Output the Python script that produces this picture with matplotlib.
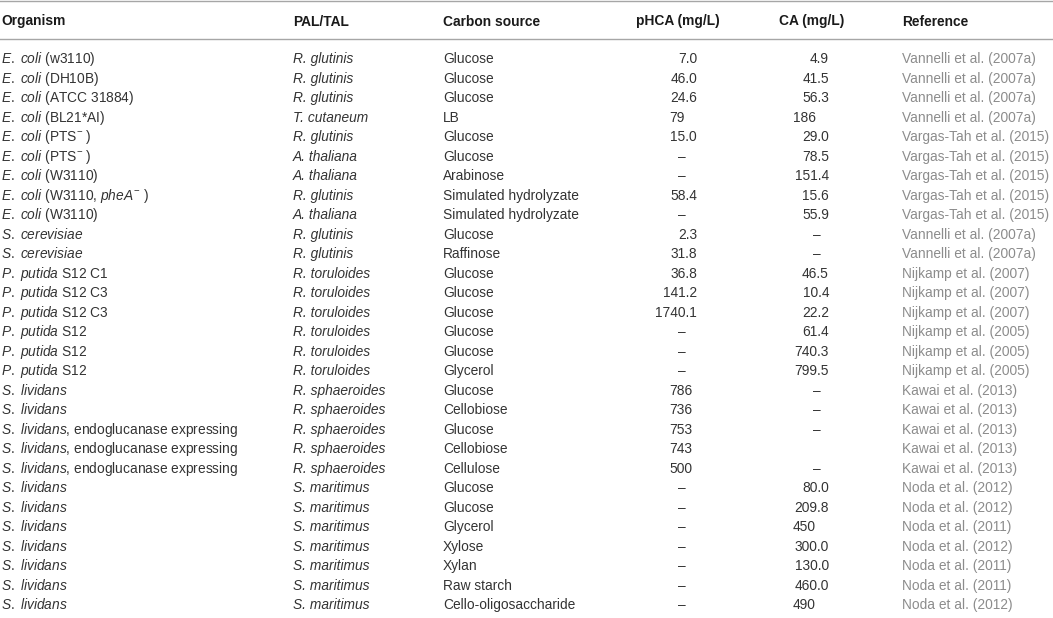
import matplotlib
matplotlib.use("Agg")
import matplotlib.pyplot as plt

plt.rcParams['font.family'] = ['Liberation Sans', 'DejaVu Sans']
plt.rcParams['mathtext.fontset'] = 'custom'
plt.rcParams['mathtext.rm'] = 'Liberation Sans'
plt.rcParams['mathtext.it'] = 'Liberation Sans:italic'
plt.rcParams['mathtext.bf'] = 'Liberation Sans:bold'

headers = ["Organism", "PAL/TAL", "Carbon source", "pHCA (mg/L)", "CA (mg/L)", "Reference"]

ECOLI = r"$\mathit{E.}$ $\mathit{coli}$"
SLIV = r"$\mathit{S.}$ $\mathit{lividans}$"
PPUT = r"$\mathit{P.}$ $\mathit{putida}$"

organisms = [
    ECOLI + " (w3110)",
    ECOLI + " (DH10B)",
    ECOLI + " (ATCC 31884)",
    ECOLI + " (BL21*AI)",
    ECOLI + r" (PTS$^{-}$ )",
    ECOLI + r" (PTS$^{-}$ )",
    ECOLI + " (W3110)",
    ECOLI + r" (W3110, $\mathit{pheA}^{-}$ )",
    ECOLI + " (W3110)",
    r"$\mathit{S.}$ $\mathit{cerevisiae}$",
    r"$\mathit{S.}$ $\mathit{cerevisiae}$",
    PPUT + " S12 C1",
    PPUT + " S12 C3",
    PPUT + " S12 C3",
    PPUT + " S12",
    PPUT + " S12",
    PPUT + " S12",
    SLIV,
    SLIV,
    SLIV + ", endoglucanase expressing",
    SLIV + ", endoglucanase expressing",
    SLIV + ", endoglucanase expressing",
    SLIV, SLIV, SLIV, SLIV, SLIV, SLIV, SLIV,
]

enzymes = (["R. glutinis"] * 3 + ["T. cutaneum", "R. glutinis", "A. thaliana", "A. thaliana",
            "R. glutinis", "A. thaliana", "R. glutinis", "R. glutinis"]
           + ["R. toruloides"] * 6 + ["R. sphaeroides"] * 5 + ["S. maritimus"] * 7)

carbon_sources = ["Glucose", "Glucose", "Glucose", "LB", "Glucose", "Glucose", "Arabinose",
                  "Simulated hydrolyzate", "Simulated hydrolyzate", "Glucose", "Raffinose",
                  "Glucose", "Glucose", "Glucose", "Glucose", "Glucose", "Glycerol",
                  "Glucose", "Cellobiose", "Glucose", "Cellobiose", "Cellulose",
                  "Glucose", "Glucose", "Glycerol", "Xylose", "Xylan", "Raw starch",
                  "Cello-oligosaccharide"]

phca = ["7.0", "46.0", "24.6", "79", "15.0", "–", "–", "58.4", "–", "2.3", "31.8",
        "36.8", "141.2", "1740.1", "–", "–", "–",
        "786", "736", "753", "743", "500",
        "–", "–", "–", "–", "–", "–", "–"]

ca = ["4.9", "41.5", "56.3", "186", "29.0", "78.5", "151.4", "15.6", "55.9", "–", "–",
      "46.5", "10.4", "22.2", "61.4", "740.3", "799.5",
      "–", "–", "–", "", "–",
      "80.0", "209.8", "450", "300.0", "130.0", "460.0", "490"]

references = (["Vannelli et al. (2007a)"] * 4 + ["Vargas-Tah et al. (2015)"] * 5
              + ["Vannelli et al. (2007a)"] * 2 + ["Nijkamp et al. (2007)"] * 3
              + ["Nijkamp et al. (2005)"] * 3 + ["Kawai et al. (2013)"] * 5
              + ["Noda et al. (2012)", "Noda et al. (2012)", "Noda et al. (2011)",
                 "Noda et al. (2012)", "Noda et al. (2011)", "Noda et al. (2011)",
                 "Noda et al. (2012)"])

W, H = 1053, 618
fig = plt.figure(figsize=(W / 100, H / 100), dpi=100)
ax = fig.add_axes([0, 0, 1, 1])
ax.set_xlim(0, W)
ax.set_ylim(H, 0)
ax.axis("off")

fs = 9.9
txt_col = "#333333"
ref_col = "#8c8c8c"
rule_col = "#a6a6a6"

# column anchors (pixels)
x_org, x_enz, x_cs = 1, 293, 443
x_ph_head, x_ca_head, x_ref = 636, 779, 902
ph_left, ph_right, ph_mid = 669, 697, 682
ca_left, ca_right, ca_mid = 793, 829, 817

row0, row_h = 63.3, 19.5

ax.axhline(1, color=rule_col, lw=1.0)
ax.axhline(39, color=rule_col, lw=1.0)

for x, h in zip([x_org, x_enz, x_cs, x_ph_head, x_ca_head, x_ref], headers):
    ax.text(x, 25.5, h, fontsize=fs, fontweight="bold", color="#1a1a1a", va="baseline", ha="left")


def num_cell(x_l, x_r, x_m, y, s):
    if s == "":
        return
    if s == "–":
        ax.text(x_m, y, s, fontsize=fs, color=txt_col, va="baseline", ha="center")
    elif "." in s:
        ax.text(x_r, y, s, fontsize=fs, color=txt_col, va="baseline", ha="right")
    else:
        ax.text(x_l, y, s, fontsize=fs, color=txt_col, va="baseline", ha="left")


for i in range(len(organisms)):
    y = row0 + i * row_h
    ax.text(x_org, y, organisms[i], fontsize=fs, color=txt_col, va="baseline", ha="left")
    ax.text(x_enz, y, enzymes[i], fontsize=fs, color=txt_col, style="italic", va="baseline", ha="left")
    ax.text(x_cs, y, carbon_sources[i], fontsize=fs, color=txt_col, va="baseline", ha="left")
    num_cell(ph_left, ph_right, ph_mid, y, phca[i])
    num_cell(ca_left, ca_right, ca_mid, y, ca[i])
    ax.text(x_ref, y, references[i], fontsize=fs, color=ref_col, va="baseline", ha="left")

fig.savefig("out.png", dpi=100)
